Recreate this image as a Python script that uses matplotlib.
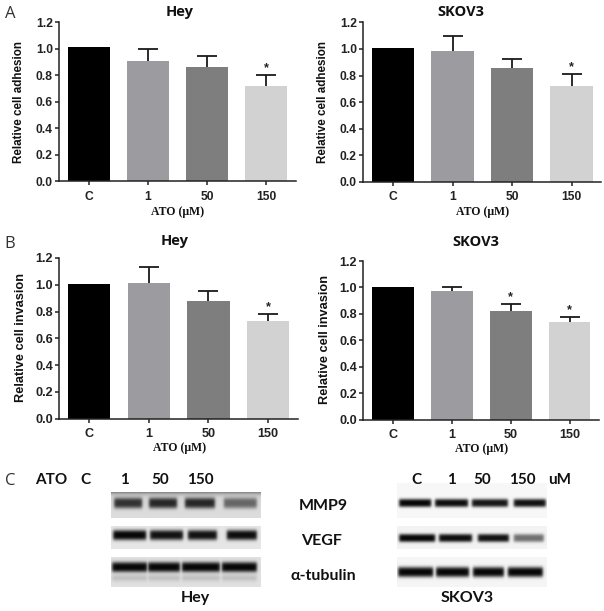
import numpy as np
import matplotlib
matplotlib.use("Agg")
import matplotlib.pyplot as plt

W, H = 604, 611
categories = ["C", "1", "50", "150"]
colors = ["#000000", "#9c9ca0", "#7e7e7e", "#d2d2d2"]
yticks = [0.0, 0.2, 0.4, 0.6, 0.8, 1.0, 1.2]

hey_adhesion = [1.01, 0.91, 0.86, 0.72]
hey_adhesion_err = [0.0, 0.085, 0.085, 0.08]
skov_adhesion = [1.005, 0.985, 0.855, 0.725]
skov_adhesion_err = [0.0, 0.115, 0.07, 0.085]
hey_invasion = [1.005, 1.015, 0.88, 0.73]
hey_invasion_err = [0.0, 0.12, 0.07, 0.055]
skov_invasion = [1.005, 0.97, 0.825, 0.74]
skov_invasion_err = [0.0, 0.03, 0.05, 0.04]

hey_adhesion_star = [3]
skov_adhesion_star = [3]
hey_invasion_star = [3]
skov_invasion_star = [2, 3]

# western blot bands: lane start, lane end, darkness (0-1)
hey_mmp9 = [(3, 31, .80), (38, 66, .85), (74, 104, .85), (113, 146, .55)]
hey_vegf = [(2, 35, 1.0), (39, 72, .95), (77, 106, .95), (116, 146, .97)]
hey_tub = [(1, 36, 1.0), (37, 69, 1.0), (71, 109, 1.0), (111, 146, 1.0)]
sk_mmp9 = [(2, 34, 1.0), (38, 71, .97), (75, 111, .93), (117, 149, .95)]
sk_vegf = [(2, 38, 1.0), (42, 75, .97), (81, 112, .95), (117, 147, .55)]
sk_tub = [(1, 36, 1.0), (39, 72, 1.0), (76, 107, 1.0), (111, 146, 1.0)]

plt.rcParams["font.family"] = ["Liberation Sans", "DejaVu Sans"]
fig = plt.figure(figsize=(W / 100, H / 100), dpi=100, facecolor="white")


def rect(l, t, r, b):
    return [l / W, 1 - b / H, (r - l) / W, (b - t) / H]


def chart(box, vals, errs, stars, fs=8.7):
    ax = fig.add_axes(rect(*box))
    x = np.arange(4)
    ax.bar(x, vals, width=0.71, color=colors, zorder=2)
    e = np.array(errs)
    _, caps, _ = ax.errorbar(x[1:], np.array(vals)[1:], yerr=[np.zeros(3), e[1:]], fmt="none",
                             ecolor="#1a1a1a", elinewidth=1.3, capsize=7, capthick=1.3, zorder=1)
    caps[0].set_visible(False)
    for i in stars:
        ax.annotate("*", (x[i], vals[i] + e[i]), xytext=(0, 0.5), textcoords="offset points",
                    ha="center", va="bottom", fontsize=9, fontweight="bold", color="#222")
    ax.set_xlim(-0.5, 3.5)
    ax.set_ylim(0, 1.2)
    ax.set_xticks(x, categories)
    ax.set_yticks(yticks, [f"{t:.1f}" for t in yticks])
    for s in ("top", "right"):
        ax.spines[s].set_visible(False)
    for s in ("left", "bottom"):
        ax.spines[s].set_linewidth(1.1)
        ax.spines[s].set_color("#222")
    ax.tick_params(length=3.2, width=1.1, color="#222", labelsize=fs, labelcolor="#222")
    ax.tick_params(axis="x", pad=3.5)
    ax.tick_params(axis="y", pad=1.5)
    for t in ax.get_xticklabels() + ax.get_yticklabels():
        t.set_fontweight("bold")
    ax.patch.set_alpha(0)
    return ax


chart((59.3, 22.3, 296, 181.3), hey_adhesion, hey_adhesion_err, hey_adhesion_star)
chart((363.3, 22.3, 601.3, 182), skov_adhesion, skov_adhesion_err, skov_adhesion_star)
chart((59.3, 258, 298, 418.7), hey_invasion, hey_invasion_err, hey_invasion_star, 9.1)
chart((363.3, 261, 599, 419.7), skov_invasion, skov_invasion_err, skov_invasion_star, 9.1)


def blot(box, bands, yc, sig, bg, top_dark=0.0, smear=0.0):
    l, t, r, b = box
    ax = fig.add_axes(rect(l, t, r, b))
    n_x, n_y = int((r - l) * 2), int((b - t) * 2)
    xs = np.linspace(0, r - l, n_x)
    ys = np.linspace(0, b - t, n_y)
    X, Y = np.meshgrid(xs, ys)
    dark = np.zeros_like(X)
    sm = np.zeros_like(X)
    for s, e, d in bands:
        lane = 0.5 * (np.tanh((X - s) / 1.6) - np.tanh((X - e) / 1.6))
        dark = np.maximum(dark, d * lane * np.exp(-np.abs((Y - (yc - t)) / sig) ** 3))
        sm = np.maximum(sm, lane * np.exp(-((Y - (yc - t + 11)) / 3.5) ** 2))
    img = bg - top_dark * np.exp(-Y / 2.5) - smear * sm
    img = img * (1 - dark) + 0.03 * dark
    ax.imshow(img, cmap="gray", vmin=0, vmax=1, aspect="auto", interpolation="bilinear")
    ax.axis("off")


hx = (111, 261)
sx = (397, 547)
blot((hx[0], 492, hx[1], 518), hey_mmp9, 503, 5.5, 0.86, 0.35)
blot((hx[0], 526, hx[1], 549), hey_vegf, 535, 5.2, 0.90)
blot((hx[0], 557, hx[1], 587), hey_tub, 567, 5.2, 0.88, 0, 0.12)
blot((sx[0], 483, sx[1], 518), sk_mmp9, 503, 4.2, 0.97)
blot((sx[0], 526, sx[1], 549), sk_vegf, 538, 4.2, 0.95)
blot((sx[0], 557, sx[1], 587), sk_tub, 572, 5.2, 0.96)

ov = fig.add_axes([0, 0, 1, 1], zorder=10)
ov.set_xlim(0, W)
ov.set_ylim(H, 0)
ov.axis("off")


def txt(x, y, s, size, family="Lato", weight="bold", rot=0, color="#111111"):
    ov.text(x, y, s, fontsize=size, family=family, fontweight=weight, rotation=rot,
            ha="center", va="center", color=color)


for x, y, s in [(10, 14, "A"), (10, 244, "B"), (10, 481, "C")]:
    txt(x, y, s, 12, "Open Sans", "normal", color="#333")
for x, y, s in [(180, 12, "Hey"), (461, 12, "SKOV3"), (175, 241, "Hey"), (476, 242, "SKOV3")]:
    txt(x, y, s, 10.5, "Open Sans")
for x, y in [(178, 212), (483, 212), (180, 448), (482, 449)]:
    txt(x, y, "ATO (μM)", 8.5, "Liberation Serif")
txt(19, 102, "Relative cell adhesion", 8.4, "Liberation Sans", rot=90)
txt(323, 102, "Relative cell adhesion", 8.4, "Liberation Sans", rot=90)
txt(21, 338, "Relative cell invasion", 9.2, "Liberation Sans", rot=90)
txt(325, 340, "Relative cell invasion", 9.2, "Liberation Sans", rot=90)

for x, s in [(51, "ATO"), (85, "C"), (124, "1"), (160, "50"), (200, "150"),
             (416, "C"), (451, "1"), (482, "50"), (522, "150"), (560, "uM")]:
    txt(x, 480, s, 11)
txt(323, 506, "MMP9", 11.5)
txt(322, 541, "VEGF", 11.5)
txt(323, 576, "α-tubulin", 11.5)
txt(195, 598, "Hey", 11.5)
txt(467, 598, "SKOV3", 11.5)

fig.savefig("out.png", dpi=100, facecolor="white")
